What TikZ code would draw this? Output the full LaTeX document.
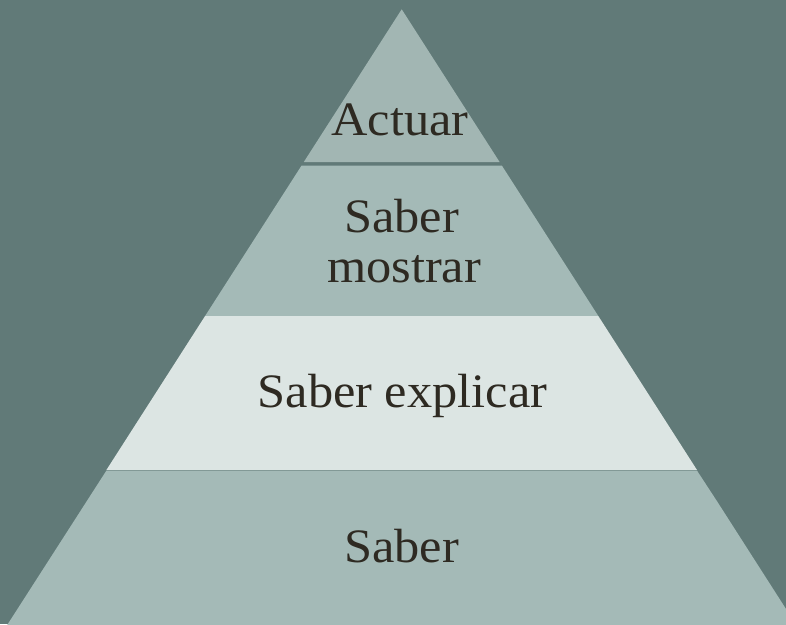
\documentclass[tikz,border=0pt]{standalone}
\usepackage{fontspec}
\setmainfont[FakeStretch=1.05]{Liberation Serif}
\definecolor{bgcol}{HTML}{617A78}
\definecolor{topcol}{HTML}{A2B6B3}
\definecolor{midcol}{HTML}{A4BAB7}
\definecolor{lightcol}{HTML}{DCE5E3}
\definecolor{txtcol}{HTML}{2E2A22}
\tikzset{
  lbl/.style={anchor=base, inner sep=0pt, text=txtcol, font=\fontsize{48}{50}\selectfont},
}
\begin{document}
\begin{tikzpicture}[x=1pt,y=-1pt]
\useasboundingbox (0,0) rectangle (786,624);
\fill[bgcol] (0,0) rectangle (786,624);
\clip (0,0) rectangle (786,624);
% half-width hw(y) = 0.641*(y-9.3), centre x = 401.7
\fill[topcol] (401.7,9.3) -- (499.6,162) -- (303.8,162) -- cycle;
\fill[midcol] (301.6,165.5) -- (501.8,165.5) -- (598.3,316) -- (205.1,316) -- cycle;
\fill[lightcol] (205.1,316) -- (598.3,316) -- (697.0,470) -- (106.4,470) -- cycle;
\fill[midcol] (106.4,470.6) -- (697.0,470.6) -- (717.5,502) -- (811,648) -- (-7.6,648) -- cycle;
\node[lbl] (actuar) at (400,135) {Actuar};
\node[lbl] (sabermos1) at (401.5,232) {Saber};
\node[lbl] (sabermos2) at (404,282) {mostrar};
\node[lbl] (saberexp) at (402.5,407) {Saber explicar};
\node[lbl] (saber) at (401.5,562) {Saber};
\end{tikzpicture}
\end{document}
